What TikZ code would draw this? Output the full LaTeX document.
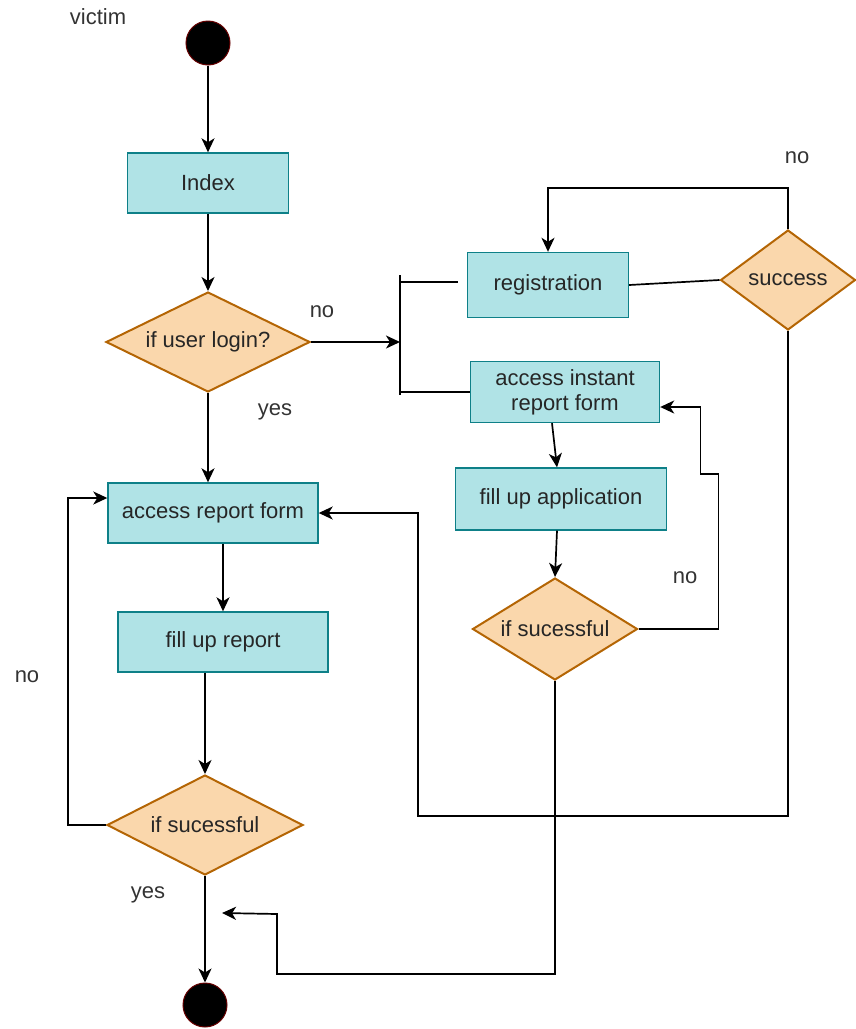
\documentclass[tikz,border=0pt]{standalone}
\usepackage{fontspec}
\setmainfont{Liberation Sans}
\usetikzlibrary{shapes.geometric,arrows.meta}

\definecolor{boxfill}{HTML}{B0E3E6}
\definecolor{boxline}{HTML}{0E8088}
\definecolor{decfill}{HTML}{FAD7AC}
\definecolor{decline}{HTML}{B46504}
\definecolor{dotline}{HTML}{660000}
\definecolor{labeltext}{HTML}{333333}

\begin{document}
\begin{tikzpicture}[x=1pt,y=-1pt,
font=\fontsize{22}{25}\selectfont,
activity/.style={rectangle, draw=boxline, fill=boxfill, line width=1.4pt, inner sep=0pt, align=center, text=black!85},
decision/.style={diamond, draw=decline, fill=decfill, line width=2pt, inner sep=0pt, text=black!85},
terminal/.style={circle, draw=dotline, fill=black, line width=1pt, minimum size=44pt, inner sep=0pt},
flow/.style={line width=1.7pt, -{Stealth[length=14pt,width=13pt,inset=4pt]}},
link/.style={line width=1.7pt},
info/.style={draw=none,fill=none,inner sep=0pt,text=labeltext}]

\useasboundingbox (0,0) rectangle (855,1029);

%% start, end and actor
\node[info] (victim) at (98,17) {victim};
\node[terminal] (start) at (208,43) {};
\node[terminal] (end) at (205,1005) {};

%% activities
\node[activity, minimum width=161pt, minimum height=60pt] (index) at (208,183) {Index};
\node[activity, minimum width=161pt, minimum height=65pt] (reg) at (548,285) {registration};
\node[activity, minimum width=189pt, minimum height=61pt] (instant) at (565,392) {access instant\\report form};
\node[activity, minimum width=211pt, minimum height=62pt] (fillapp) at (561,499) {fill up application};
\node[activity, minimum width=210pt, minimum height=60pt] (report) at (213,513) {access report form};
\node[activity, minimum width=210pt, minimum height=60pt] (fillrep) at (223,642) {fill up report};

%% decisions
\node[decision, aspect=2, minimum width=204pt, minimum height=100pt] (login) at (208,342) {if user login?};
\node[decision, aspect=1.35, minimum width=135pt, minimum height=100pt] (success) at (788,280) {success};
\node[decision, aspect=1.6, minimum width=165pt, minimum height=102pt] (appok) at (555,629) {if sucessful};
\node[decision, aspect=1.96, minimum width=196pt, minimum height=100pt] (repok) at (205,825) {if sucessful};

%% branch labels
\node[info] (loginno) at (322,312) {no};
\node[info] (loginyes) at (275,412) {yes};
\node[info] (successno) at (797,158) {no};
\node[info] (appno) at (685,578) {no};
\node[info] (repno) at (27,677) {no};
\node[info] (repyes) at (148,895) {yes};

%% fork of the no branch
\coordinate (brtop) at (400,275);
\coordinate (brbot) at (400,395);
\coordinate (brmid) at (400,342);
\coordinate (brreg) at (400,282);
\coordinate (brinst) at (400,392);
\coordinate (regstub) at (458,282);
\coordinate (merge) at (222,913);

%% place all edges
\draw[flow] (start) -- (index);
\draw[flow] (index) -- (login);
\draw[flow] (login.east) -- (brmid);
\draw[link] (brtop) -- (brbot);
\draw[link] (brreg) -- (regstub);
\draw[link] (brinst) -- (instant.west);
\draw[link] (reg.east) -- (success.west);
\draw[flow] (success.north) -- ++(0,-41) -| (reg.north);
\draw[flow] (login.south) -- (login.south |- report.north);
\draw[flow] (fillrep.north |- report.south) -- (fillrep.north);
\draw[flow] (fillrep.south -| repok.north) -- (repok.north);
\draw[flow] (repok.west) -- ++(-38,0) |- ([yshift=15pt]report.west);
\draw[flow] (repok) -- (end);
\draw[flow] ([xshift=-13pt]instant.south) -- ([xshift=-4pt]fillapp.north);
\draw[flow] ([xshift=-4pt]fillapp.south) -- (appok.north);
\draw[flow] (appok.east) -- ++(80,0) -- ++(0,-155) -- ++(-18,0) |- ([yshift=-15pt]instant.east);
\draw[flow] (appok.south) -- ++(0,293) -- ++(-278,0) -- ++(0,-60) -- (merge);
\draw[flow] (success.south) -- ++(0,485) -- ++(-370,0) |- (report.east);

\end{tikzpicture}
\end{document}
